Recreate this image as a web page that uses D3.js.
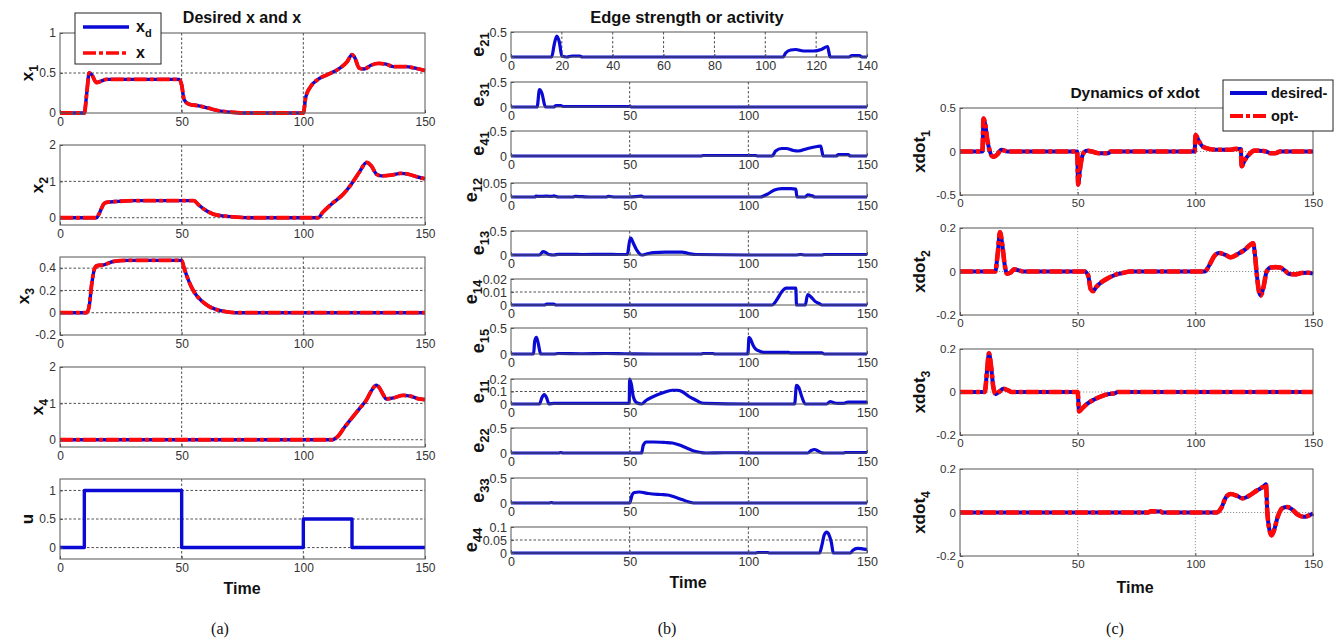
<!DOCTYPE html>
<html>
<head>
<meta charset="utf-8">
<script src="https://cdn.jsdelivr.net/npm/d3@7"></script>
<style>
body { margin: 0; background: #fff; }
svg { font-family: "Liberation Sans", Arial, sans-serif; }
</style>
</head>
<body>
<svg id="chart" width="1335" height="641"></svg>
<script>
// ---- panel (a): desired x and x, [time, value]
const x1Data = [[0,0],[10,0],[11,0.25],[12,0.5],[13,0.48],[15,0.38],[17,0.4],[19,0.42],[49,0.42],[50,0.35],[51,0.17],[53,0.11],[57,0.09],[61,0.06],[65,0.03],[70,0.01],[75,0],[100,0],[101,0.2],[103,0.33],[106,0.42],[110,0.48],[115,0.56],[118,0.64],[120,0.73],[121,0.7],[123,0.56],[125,0.55],[128,0.6],[131,0.62],[134,0.61],[137,0.58],[142,0.58],[146,0.56],[150,0.53]];
const x2Data = [[0,0],[15,0],[16,0.1],[18,0.38],[19,0.42],[24,0.45],[30,0.47],[55,0.47],[57,0.35],[60,0.2],[63,0.1],[67,0.05],[72,0.02],[78,0],[106,0],[108,0.15],[112,0.4],[116,0.62],[120,0.95],[123,1.25],[126,1.52],[128,1.42],[130,1.2],[132,1.15],[136,1.17],[140,1.22],[143,1.2],[147,1.12],[150,1.07]];
const x3Data = [[0,0],[11,0],[12,0.06],[13,0.25],[14,0.38],[15,0.42],[18,0.43],[22,0.46],[28,0.47],[50,0.47],[51,0.4],[53,0.28],[55,0.19],[58,0.11],[61,0.06],[64,0.03],[68,0.01],[72,0],[150,0]];
const x4Data = [[0,0],[112,0],[114,0.08],[117,0.35],[120,0.6],[123,0.85],[126,1.1],[128,1.35],[130,1.5],[131,1.45],[133,1.22],[134,1.12],[137,1.15],[141,1.22],[144,1.2],[147,1.13],[150,1.1]];
const uData = [[0,0],[10,1],[50,0],[100,0.5],[120,0],[150,0]];

// ---- panel (b): edge strength
const e21Data = [[0,0],[16,0],[17,0.25],[18,0.42],[19,0.3],[20,0.02],[22,0],[24,0.02],[27,0.02],[28,0],[107,0],[108,0.08],[110,0.14],[112,0.15],[115,0.12],[119,0.12],[122,0.15],[124.5,0.21],[125,0.1],[125.5,0],[133,0],[134,0.03],[137,0.03],[138,0],[140,0]];
const e31Data = [[0,0],[11,0],[12,0.35],[13,0.28],[14.5,0],[18,0],[19,0.03],[21,0.03],[22,0.01],[50,0.01],[51,0],[150,0]];
const e41Data = [[0,0],[80,0],[81,0.01],[103,0.01],[104,0],[110,0],[111.5,0.1],[114,0.15],[116,0.15],[119,0.11],[121,0.1],[125,0.15],[129,0.19],[130.5,0.2],[131,0.1],[131.5,0],[137,0],[138,0.03],[142,0.03],[143,0],[150,0]];
const e12Data = [[0,0],[10,0],[10.5,0.003],[12,0.002],[15,0.003],[17,0.002],[18,0.004],[20,0],[26,0],[27,0.002],[30,0.001],[33,0],[40,0],[41,0.002],[44,0],[50,0],[55,0.003],[56,0],[105,0],[108,0.01],[111,0.025],[114,0.03],[118,0.03],[120,0.028],[120.5,0],[124,0],[125,0.008],[126,0.006],[127,0.004],[128,0],[150,0]];
const e13Data = [[0,0],[12,0],[13.5,0.07],[15,0.04],[16,0.01],[18,0],[20,0.015],[25,0.015],[30,0.01],[40,0.015],[45,0.01],[49,0.01],[50,0.3],[50.5,0.35],[51.5,0.25],[53,0.1],[55,0],[57,0.02],[60,0.05],[65,0.06],[72,0.06],[75,0.03],[78,0.01],[100,0],[120,0],[122,0.01],[124,0],[131,0],[132,0.01],[150,0.01]];
const e14Data = [[0,0],[14,0],[15,0.0007],[18,0.0007],[19,0],[110,0],[112,0.004],[114,0.01],[116,0.013],[120,0.013],[120.3,0],[124,0],[125,0.008],[126.5,0.006],[128,0.003],[130,0.001],[131,0],[150,0]];
const e15Data = [[0,0],[9.5,0],[10,0.25],[10.7,0.32],[11.5,0.2],[12.5,0],[18,0],[20,0.01],[30,0.005],[40,0.01],[48,0.005],[60,0],[80,0],[81,0.01],[85,0.01],[86,0],[99.8,0],[100.3,0.32],[101,0.28],[102,0.17],[103,0.1],[105,0.05],[107,0.03],[117,0.03],[118,0.02],[131,0.02],[132,0],[150,0]];
const e11Data = [[0,0],[12,0],[13,0.05],[14,0.075],[15,0.05],[16,0],[18,0.005],[40,0.005],[49.8,0.005],[50,0.2],[50.8,0.15],[51.5,0.06],[53,0.01],[55,0],[57,0.03],[60,0.06],[64,0.09],[68,0.11],[70,0.11],[72,0.1],[75,0.06],[78,0.03],[80,0.01],[82,0.005],[100,0],[119.5,0],[120.3,0.15],[121.3,0.13],[122.5,0.06],[124,0],[133,0],[134.5,0.02],[136,0.01],[138,0.005],[140,0.005],[142,0.015],[150,0.015]];
const e22Data = [[0,0],[20,0],[21,0.01],[22,0],[55,0],[55.7,0.15],[57,0.22],[60,0.22],[65,0.21],[68,0.2],[71,0.16],[74,0.1],[77,0.04],[80,0.01],[82,0],[90,0.005],[98,0.005],[100,0],[125,0],[126.5,0.05],[128,0.07],[129,0.05],[130.5,0.01],[132,0],[140,0],[141,0.01],[150,0.01]];
const e33Data = [[0,0],[16,0],[17,0.01],[18,0],[50,0],[51,0.16],[52,0.21],[54,0.22],[58,0.19],[63,0.17],[66,0.16],[69,0.12],[72,0.07],[75,0.02],[77,0],[150,0]];
const e44Data = [[0,0],[103,0],[104,0.002],[108,0.002],[109,0],[130,0],[131,0.03],[132,0.07],[133,0.08],[134,0.07],[135,0.04],[135.8,0],[143,0],[144,0.01],[146,0.018],[148,0.016],[150,0.013]];

// ---- panel (c): dynamics of xdot
const xdot1Data = [[0,0],[9.5,0],[10,0.38],[10.8,0.3],[11.5,0.15],[12.5,0.02],[13.5,-0.05],[14.5,-0.06],[16,-0.03],[17.5,0.02],[19,0.01],[20,0],[49.8,0],[50.2,-0.38],[51,-0.2],[52,-0.05],[53,0],[54,0.01],[56,0],[59,-0.02],[63,-0.02],[64,0],[99.7,0],[100.1,0.19],[101.5,0.12],[103,0.06],[106,0.03],[110,0.02],[115,0.02],[117,0.03],[119.3,0.03],[119.7,-0.17],[121,-0.1],[123,-0.03],[125,0.01],[127,0.01],[130,0],[132,-0.02],[134,-0.02],[136,0],[150,0]];
const xdot2Data = [[0,0],[15,0],[16,0.08],[17,0.18],[18,0.12],[19,0.03],[20,-0.01],[21.5,-0.005],[23,0.01],[25,0.005],[27,0],[53,0],[54.5,-0.02],[55.5,-0.08],[56.5,-0.09],[58,-0.07],[60,-0.05],[63,-0.03],[66,-0.015],[70,-0.005],[72,0],[104,0],[106,0.03],[108,0.07],[110,0.085],[113,0.075],[115,0.065],[118,0.08],[121,0.1],[124.6,0.13],[125.3,0.08],[126,0],[127,-0.09],[127.8,-0.11],[129,-0.07],[130.3,0],[132,0.018],[134,0.02],[136,0.018],[138,0.005],[140,-0.012],[143,-0.013],[145,-0.007],[148,-0.006],[150,-0.01]];
const xdot3Data = [[0,0],[10.5,0],[11.5,0.1],[12.3,0.18],[13.2,0.12],[14.2,0.02],[15.2,-0.01],[16.5,0],[18.5,0.015],[20,0.01],[22,0],[50,0],[50.6,-0.09],[52,-0.075],[54,-0.055],[57,-0.035],[60,-0.02],[63,-0.01],[66,-0.005],[67,0],[150,0]];
const xdot4Data = [[0,0],[80,0],[81,0.005],[85,0.005],[86,0],[109,0],[111,0.02],[113,0.07],[115,0.085],[118,0.075],[120,0.065],[123,0.078],[126,0.1],[129,0.12],[130,0.13],[130.6,0],[131.5,-0.08],[132.4,-0.105],[133.5,-0.08],[135,-0.02],[137,0.02],[139,0.025],[141,0.015],[143.5,-0.01],[146,-0.02],[148,-0.015],[150,-0.005]];

const timeTicks = [0, 50, 100, 150];
const timeTicks140 = [0, 20, 40, 60, 80, 100, 120, 140];

const BLUE = "#0a0ad4", RED = "#ff0808";
const svg = d3.select("#chart");

function subplot(cfg) {
    let g = svg.append("g");
    let x = d3.scaleLinear().domain(cfg.xDomain).range([cfg.left, cfg.right]),
        y = d3.scaleLinear().domain(cfg.yDomain).range([cfg.bottom, cfg.top]);

    let gs = cfg.dotted ? {c: "#777", d: "1.2,1.8"} : {c: "#222", d: "2.5,2"};
    g.selectAll("line.vg").data(cfg.xGrid).enter().append("line")
        .attr("x1", d => x(d)).attr("x2", d => x(d)).attr("y1", cfg.top).attr("y2", cfg.bottom)
        .style("stroke", gs.c).style("stroke-width", 0.8).style("stroke-dasharray", gs.d);
    g.selectAll("line.hg").data(cfg.yGrid).enter().append("line")
        .attr("y1", d => y(d)).attr("y2", d => y(d)).attr("x1", cfg.left).attr("x2", cfg.right)
        .style("stroke", gs.c).style("stroke-width", 0.8).style("stroke-dasharray", gs.d);

    for (let s of cfg.series) {
        g.append("path").datum(s.data)
            .attr("d", d3.line().x(d => x(d[0])).y(d => y(d[1])).curve(s.curve || d3.curveMonotoneX))
            .style("fill", "none").style("stroke", s.color).style("stroke-width", s.width)
            .style("stroke-dasharray", s.dash || null).style("stroke-linejoin", "round");
    }

    g.append("rect").attr("x", cfg.left).attr("y", cfg.top)
        .attr("width", cfg.right - cfg.left).attr("height", cfg.bottom - cfg.top)
        .style("fill", "none").style("stroke", "#555").style("stroke-width", 1);

    let xa = g.append("g").attr("transform", "translate(0," + cfg.bottom + ")")
        .call(d3.axisBottom(x).tickValues(cfg.xTicks).tickFormat(d => d).tickSizeInner(-3).tickSizeOuter(0).tickPadding(4));
    let ya = g.append("g").attr("transform", "translate(" + cfg.left + ",0)")
        .call(d3.axisLeft(y).tickValues(cfg.yTicks).tickFormat(d => String(d)).tickSizeInner(-3).tickSizeOuter(0).tickPadding(4));
    for (let a of [xa, ya]) {
        a.select(".domain").remove();
        a.selectAll("line").style("stroke", "#555");
        a.selectAll("text").style("font-size", cfg.tickSize + "px").style("fill", "#333")
            .style("font-family", "'Liberation Sans', Arial, sans-serif");
    }

    // rotated y label with subscript
    let bb = ya.node().getBBox(),
        lx = cfg.left + bb.x - cfg.labelGap,
        ly = (cfg.top + cfg.bottom) / 2;
    let t = g.append("text").attr("transform", "translate(" + lx + "," + ly + ") rotate(-90)")
        .attr("text-anchor", "middle").style("font-weight", "bold").style("font-size", cfg.labelSize + "px").style("fill", "#111");
    t.append("tspan").text(cfg.label);
    t.append("tspan").attr("dy", cfg.labelSize * 0.3).style("font-size", (cfg.labelSize * 0.72) + "px").text(cfg.sub);
    return {x, y};
}

function text(x, y, str, size, opts) {
    opts = opts || {};
    return svg.append("text").attr("x", x).attr("y", y).attr("text-anchor", opts.anchor || "middle")
        .style("font-size", size + "px").style("font-weight", opts.weight || "bold")
        .style("font-family", opts.family || "'Liberation Sans', Arial, sans-serif").style("fill", "#111").text(str);
}

const redDash = "13,3,4,3";
const serif = "'Liberation Serif', 'Times New Roman', serif";

// ---- panel (a)
const rowsA = [
    {label: "x", sub: "1", data: x1Data, yDomain: [0, 1], yTicks: [0, 0.5, 1], yGrid: [0.5], top: 33, bottom: 113},
    {label: "x", sub: "2", data: x2Data, yDomain: [-0.2, 2], yTicks: [0, 1, 2], yGrid: [0, 1], top: 145, bottom: 225},
    {label: "x", sub: "3", data: x3Data, yDomain: [-0.2, 0.5], yTicks: [-0.2, 0, 0.2, 0.4], yGrid: [0, 0.2, 0.4], top: 257, bottom: 335},
    {label: "x", sub: "4", data: x4Data, yDomain: [-0.2, 2], yTicks: [0, 1, 2], yGrid: [0, 1], top: 367, bottom: 447},
    {label: "u", sub: "", data: uData, yDomain: [-0.2, 1.2], yTicks: [0, 0.5, 1], yGrid: [0, 0.5, 1], top: 479, bottom: 559, step: true}
];
for (let r of rowsA) {
    let series = r.step
        ? [{data: r.data, color: BLUE, width: 3.4, curve: d3.curveStepAfter}]
        : [{data: r.data, color: BLUE, width: 3.4}, {data: r.data, color: RED, width: 3.8, dash: redDash}];
    subplot(Object.assign({}, r, {left: 60, right: 425, xDomain: [0, 150], xTicks: timeTicks, xGrid: [50, 100],
        series: series, tickSize: 12, labelSize: 17, labelGap: 6}));
}
text(242, 23, "Desired x and x", 16);
text(242, 594, "Time", 16);
text(220, 634, "(a)", 16, {weight: "normal", family: serif});

// legend (a)
svg.append("rect").attr("x", 75).attr("y", 13).attr("width", 86).attr("height", 51)
    .style("fill", "#fff").style("stroke", "#222").style("stroke-width", 1);
svg.append("line").attr("x1", 83).attr("x2", 129).attr("y1", 27).attr("y2", 27).style("stroke", BLUE).style("stroke-width", 3.5);
svg.append("line").attr("x1", 83).attr("x2", 129).attr("y1", 53).attr("y2", 53).style("stroke", RED).style("stroke-width", 3.5).style("stroke-dasharray", redDash);
let lg = text(136, 32, "", 16, {anchor: "start"});
lg.append("tspan").text("x");
lg.append("tspan").attr("dy", 5).style("font-size", "11px").text("d");
text(136, 58, "x", 16, {anchor: "start"});

// ---- panel (b)
const rowsB = [
    {sub: "21", data: e21Data, yDomain: [0, 0.5], yTicks: [0, 0.5], yGrid: [], top: 32, bottom: 57, xDomain: [0, 140], xTicks: timeTicks140, xGrid: [20, 40, 60, 80, 100, 120]},
    {sub: "31", data: e31Data, yDomain: [0, 0.5], yTicks: [0, 0.5], yGrid: [], top: 82, bottom: 107},
    {sub: "41", data: e41Data, yDomain: [0, 0.5], yTicks: [0, 0.5], yGrid: [], top: 131, bottom: 156},
    {sub: "12", data: e12Data, yDomain: [0, 0.05], yTicks: [0, 0.05], yGrid: [], top: 183, bottom: 197},
    {sub: "13", data: e13Data, yDomain: [0, 0.5], yTicks: [0, 0.5], yGrid: [], top: 231, bottom: 255},
    {sub: "14", data: e14Data, yDomain: [0, 0.02], yTicks: [0, 0.01, 0.02], yGrid: [0.01], top: 279, bottom: 305},
    {sub: "15", data: e15Data, yDomain: [0, 0.5], yTicks: [0, 0.5], yGrid: [], top: 328, bottom: 354},
    {sub: "11", data: e11Data, yDomain: [0, 0.2], yTicks: [0, 0.1, 0.2], yGrid: [0.1], top: 379, bottom: 404},
    {sub: "22", data: e22Data, yDomain: [0, 0.5], yTicks: [0, 0.5], yGrid: [], top: 428, bottom: 453},
    {sub: "33", data: e33Data, yDomain: [0, 0.5], yTicks: [0, 0.5], yGrid: [], top: 478, bottom: 503},
    {sub: "44", data: e44Data, yDomain: [0, 0.1], yTicks: [0, 0.05, 0.1], yGrid: [0.05], top: 527, bottom: 553}
];
for (let r of rowsB) {
    subplot(Object.assign({left: 511, right: 867, xDomain: [0, 150], xTicks: timeTicks, xGrid: [50, 100]}, r, {
        label: "e", series: [{data: r.data, color: BLUE, width: 3.2}], tickSize: 12.5, labelSize: 18, labelGap: 6}));
}
text(687, 23, "Edge strength or activity", 16.5);
text(688, 588, "Time", 16);
text(667, 634, "(b)", 16, {weight: "normal", family: serif});

// ---- panel (c)
const rowsC = [
    {sub: "1", data: xdot1Data, yDomain: [-0.5, 0.5], yTicks: [-0.5, 0, 0.5], top: 108, bottom: 195},
    {sub: "2", data: xdot2Data, yDomain: [-0.2, 0.2], yTicks: [-0.2, 0, 0.2], top: 228, bottom: 315},
    {sub: "3", data: xdot3Data, yDomain: [-0.2, 0.2], yTicks: [-0.2, 0, 0.2], top: 349, bottom: 435},
    {sub: "4", data: xdot4Data, yDomain: [-0.2, 0.2], yTicks: [-0.2, 0, 0.2], top: 469, bottom: 556}
];
for (let r of rowsC) {
    subplot(Object.assign({}, r, {label: "xdot", left: 960, right: 1313, xDomain: [0, 150], xTicks: timeTicks,
        xGrid: [50, 100], yGrid: [0], dotted: true,
        series: [{data: r.data, color: BLUE, width: 4}, {data: r.data, color: RED, width: 4.6, dash: redDash}],
        tickSize: 11.5, labelSize: 17, labelGap: 11}));
}
text(1135, 98, "Dynamics of xdot", 15.5);
text(1135, 593, "Time", 16);
text(1115, 634, "(c)", 16, {weight: "normal", family: serif});

// legend (c)
svg.append("rect").attr("x", 1223).attr("y", 80).attr("width", 110).attr("height", 51)
    .style("fill", "#fff").style("stroke", "#222").style("stroke-width", 1);
svg.append("line").attr("x1", 1230).attr("x2", 1267).attr("y1", 93).attr("y2", 93).style("stroke", BLUE).style("stroke-width", 4);
svg.append("line").attr("x1", 1230).attr("x2", 1267).attr("y1", 116).attr("y2", 116).style("stroke", RED).style("stroke-width", 4).style("stroke-dasharray", redDash);
text(1271, 98, "desired-", 14.5, {anchor: "start"});
text(1271, 121, "opt-", 14.5, {anchor: "start"});
</script>
</body>
</html>
